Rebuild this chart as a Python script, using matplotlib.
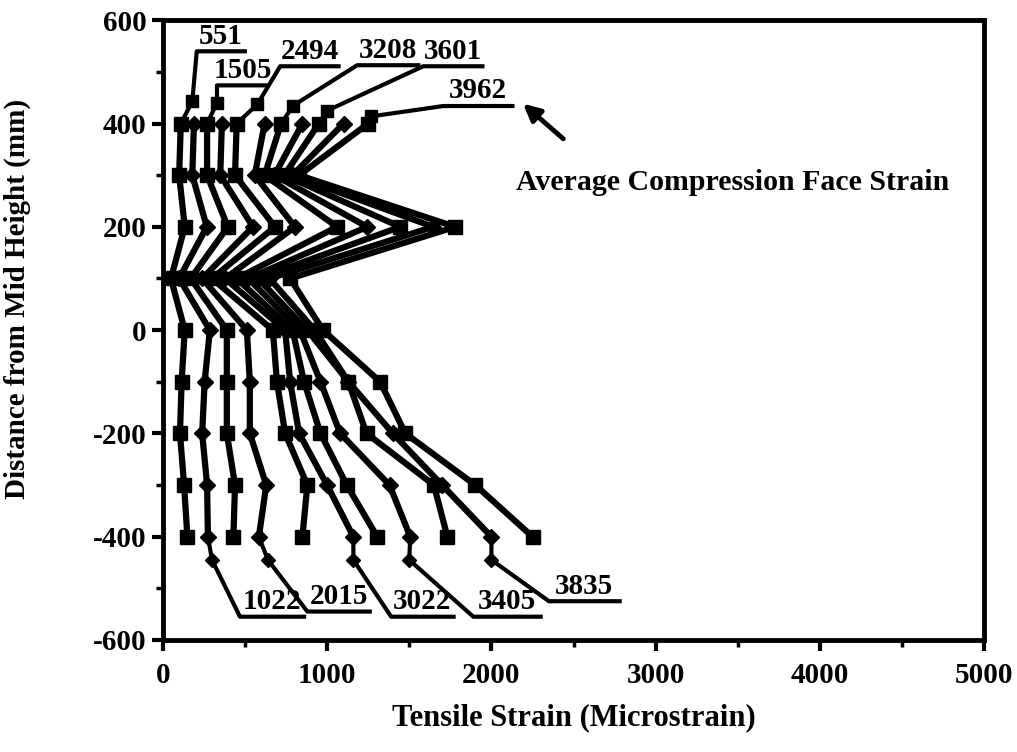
import matplotlib
matplotlib.use("Agg")
import matplotlib.pyplot as plt
from matplotlib.ticker import MultipleLocator

plt.rcParams['font.family'] = ['Liberation Serif', 'DejaVu Serif']
plt.rcParams['font.weight'] = 'bold'
plt.rcParams['axes.unicode_minus'] = False

# ---- data ----
heights = [400, 300, 200, 100, 0, -100, -200, -300, -400]
series_labels = ['551', '1022', '1505', '2015', '2494', '3022', '3208', '3405', '3601', '3835', '3962']
s551  = [110, 100, 134, 50, 134, 115, 105, 130, 150]
s1022 = [190, 180, 268, 100, 287, 255, 240, 270, 275]
s1505 = [270, 270, 396, 170, 390, 390, 390, 440, 430]
s2015 = [360, 350, 549, 240, 512, 530, 530, 630, 585]
s2494 = [450, 440, 683, 300, 670, 695, 745, 880, 850]
s3022 = [620, 560, 805, 380, 745, 775, 830, 1000, 1160]
s3208 = [720, 620, 1061, 450, 790, 860, 960, 1120, 1305]
s3405 = [850, 680, 1244, 520, 835, 960, 1080, 1380, 1506]
s3601 = [950, 740, 1445, 580, 880, 1130, 1240, 1650, 1732]
s3835 = [1100, 790, 1646, 650, 925, 1130, 1400, 1700, 2000]
s3962 = [1250, 830, 1780, 775, 975, 1323, 1476, 1902, 2250]
all_series = [s551, s1022, s1505, s2015, s2494, s3022, s3208, s3405, s3601, s3835, s3962]
label_at_top = [True, False, True, False, True, False, True, False, True, False, True]

# leader kinks (x, y) and label underline (x_left, x_right, y)
kink_x = [180, 300, 330, 640, 575, 1160, 795, 1500, 1000, 2000, 1270]
kink_y = [443, -445, 440, -445, 437, -445, 435, -445, 425, -445, 414]
ul_left = [207, 470, 330, 880, 715, 1390, 1183, 1890, 1585, 2350, 1707]
ul_right = [500, 860, 640, 1260, 1070, 1770, 1555, 2300, 1945, 2780, 2128]
ul_y = [540, -555, 474, -545, 511, -555, 513, -555, 511, -525, 434]

xticks = [0, 1000, 2000, 3000, 4000, 5000]
yticks = [-600, -400, -200, 0, 200, 400, 600]

fig = plt.figure(figsize=(10.17, 7.52), dpi=100)
ax = fig.add_axes([0.160, 0.149, 0.808, 0.824])

for i, vals in enumerate(all_series):
    mk = 's' if label_at_top[i] else 'D'
    ms = 10 if label_at_top[i] else 8
    ax.plot(vals, heights, color='black', lw=4.5, marker=mk, ms=ms, zorder=3)
    start_x = vals[0] if label_at_top[i] else vals[-1]
    start_y = heights[0] if label_at_top[i] else heights[-1]
    ax.plot([start_x, kink_x[i], ul_left[i], ul_right[i]],
            [start_y, kink_y[i], ul_y[i], ul_y[i]],
            color='black', lw=3, zorder=3, clip_on=False)
    ax.plot([kink_x[i]], [kink_y[i]], marker=mk, ms=ms - 1, color='black',
            zorder=3, clip_on=False)
    ax.text((ul_left[i] + ul_right[i]) / 2, ul_y[i] + 3, series_labels[i],
            ha='center', va='bottom', fontsize=21, fontweight='bold')

ax.annotate('', xy=(2180, 442), xytext=(2450, 367),
            arrowprops=dict(arrowstyle='-|>', color='black', lw=3.5,
                            mutation_scale=25))
ax.text(2150, 285, 'Average Compression Face Strain', fontsize=21.5,
        fontweight='bold', ha='left', va='center')

ax.set_xlim(0, 5000)
ax.set_ylim(-600, 600)
ax.set_xticks(xticks)
ax.set_yticks(yticks)
ax.xaxis.set_minor_locator(MultipleLocator(500))
ax.yaxis.set_minor_locator(MultipleLocator(100))
ax.tick_params(axis='both', which='major', direction='out', length=8, width=3,
               labelsize=21, top=False, right=False)
ax.tick_params(axis='both', which='minor', direction='out', length=5, width=2.5,
               top=False, right=False)
ax.tick_params(axis='x', which='major', pad=8)
for lab in ax.get_xticklabels() + ax.get_yticklabels():
    lab.set_fontweight('bold')
for sp in ax.spines.values():
    sp.set_linewidth(3.5)

ax.set_xlabel('Tensile Strain (Microstrain)', fontsize=22, fontweight='bold',
              labelpad=10)
ax.set_ylabel('Distance from Mid Height (mm)', fontsize=21, fontweight='bold')
ax.yaxis.set_label_coords(-0.16, 0.55)

fig.savefig('out.png', dpi=100)
